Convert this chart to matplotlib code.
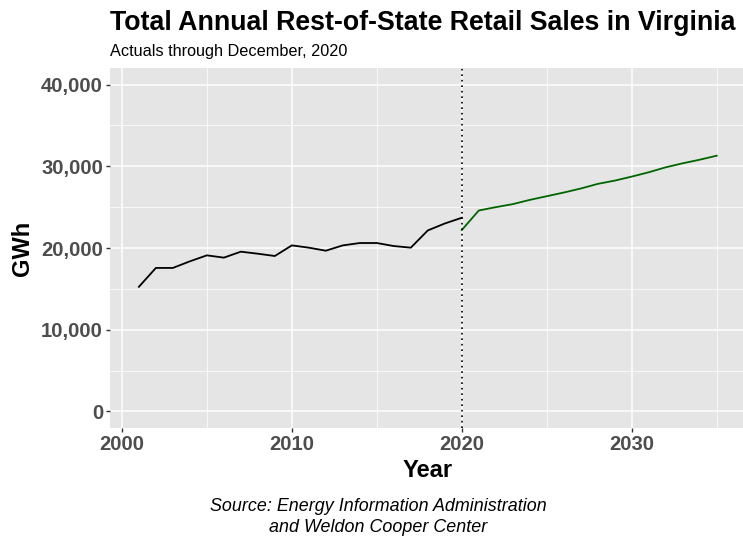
"""Total annual rest-of-state retail sales in Virginia: actuals and forecast."""

import numpy as np
import matplotlib
matplotlib.use("Agg")
import matplotlib.pyplot as plt
from matplotlib.ticker import FuncFormatter, MultipleLocator

actual_years = list(range(2001, 2021))
actual_gwh = [15250, 17560, 17560, 18370, 19100, 18820, 19550, 19300, 19020, 20320,
              20040, 19670, 20320, 20610, 20610, 20240, 20040, 22150, 23000, 23700]

forecast_years = list(range(2020, 2036))
forecast_gwh = [22200, 24590, 25000, 25370, 25890, 26340, 26790, 27280, 27850, 28250,
                28740, 29270, 29880, 30370, 30810, 31300]

cutoff_year = 2020

W, H = 743, 537
plt.rcParams["font.family"] = ["Liberation Sans", "DejaVu Sans"]

fig = plt.figure(figsize=(W / 100, H / 100), dpi=100)
left, right, top, bottom = 110, 745.6, 68.3, 427.7
ax = fig.add_axes([left / W, 1 - bottom / H, (right - left) / W, (bottom - top) / H])

ax.set_facecolor("#E5E5E5")
for s in ax.spines.values():
    s.set_visible(False)

ax.set_xlim(1999.3, 2036.7)
ax.set_ylim(-2000, 42000)
ax.xaxis.set_major_locator(MultipleLocator(10))
ax.xaxis.set_minor_locator(MultipleLocator(5))
ax.yaxis.set_major_locator(MultipleLocator(10000))
ax.yaxis.set_minor_locator(MultipleLocator(5000))
ax.yaxis.set_major_formatter(FuncFormatter(lambda v, p: f"{int(v):,}"))

ax.grid(which="major", color="white", linewidth=1.1)
ax.grid(which="minor", color="white", linewidth=0.55)
ax.set_axisbelow(True)
ax.tick_params(which="major", length=3, width=1, color="#333333",
               labelsize=14.6, labelcolor="#4D4D4D", pad=2)
ax.tick_params(which="minor", length=0)
for lab in ax.get_xticklabels() + ax.get_yticklabels():
    lab.set_fontweight("bold")

ax.plot(actual_years, actual_gwh, color="black", linewidth=1.3)
ax.plot(forecast_years, forecast_gwh, color="#006400", linewidth=1.3)
ax.axvline(cutoff_year, color="black", linestyle=(0, (1, 2.3)), linewidth=1.2)

ax.set_xlabel("Year", fontsize=17, fontweight="bold", labelpad=4)
ax.set_ylabel("GWh", fontsize=17, fontweight="bold", labelpad=5)

fig.text(left / W, 1 - 29.5 / H, "Total Annual Rest-of-State Retail Sales in Virginia",
         fontsize=19.3, fontweight="bold", ha="left", va="baseline")
fig.text(left / W, 1 - 56 / H, "Actuals through December, 2020",
         fontsize=11.7, ha="left", va="baseline")
fig.text(378 / W, 1 - 532 / H,
         "Source: Energy Information Administration\nand Weldon Cooper Center",
         fontsize=12.85, style="italic", ha="center", va="baseline", linespacing=1.32)

fig.savefig("out.png", dpi=100)
